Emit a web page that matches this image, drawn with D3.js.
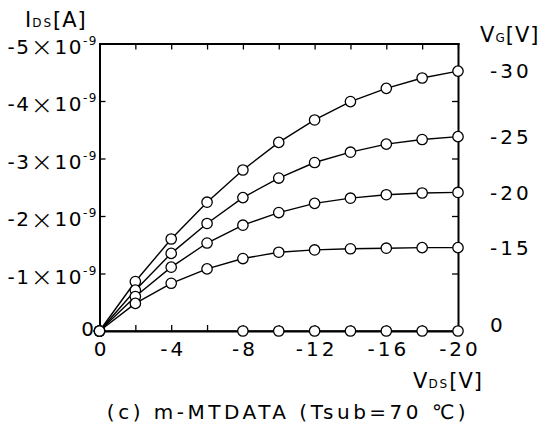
<!DOCTYPE html>
<html>
<head>
<meta charset="utf-8">
<script src="https://cdn.jsdelivr.net/npm/d3@7"></script>
<style>
  body { margin: 0; background: #fff; }
  svg text { font-family: "DejaVu Sans", "Liberation Sans", sans-serif; fill: #000; }
  .axis .domain { stroke: #000; stroke-width: 2; }
  .axis line { stroke: #000; stroke-width: 1.3; }
</style>
</head>
<body>
<svg id="chart" width="549" height="431"></svg>
<script>

// drain voltage V_DS [V]
const vds = [0, -2, -4, -6, -8, -10, -12, -14, -16, -18, -20];

// drain current I_DS, in units of 1e-9 A, one array per gate voltage
const ids30 = [0, -0.86, -1.60, -2.24, -2.80, -3.28, -3.67, -3.99, -4.22, -4.40, -4.52];
const ids25 = [0, -0.71, -1.35, -1.87, -2.32, -2.66, -2.93, -3.11, -3.25, -3.33, -3.38];
const ids20 = [0, -0.60, -1.11, -1.53, -1.84, -2.06, -2.22, -2.31, -2.37, -2.40, -2.41];
const ids15 = [0, -0.48, -0.83, -1.08, -1.26, -1.37, -1.41, -1.43, -1.44, -1.45, -1.45];
const ids0  = [0, null, null, null, 0, 0, 0, 0, 0, 0, 0];

const gateLabels = ["-30", "-25", "-20", "-15", "0"];

const xTickValues = [0, -2, -4, -6, -8, -10, -12, -14, -16, -18, -20];
const xTickLabels = [0, -4, -8, -12, -16, -20];
const yTickValues = [0, -1, -2, -3, -4, -5];
const yTickLabels = [-1, -2, -3, -4, -5];


const ivChart = function(){

    const render = function(target_id){
        let svg = d3.select('#' + target_id);

        var x = d3.scaleLinear().domain([0, -20]).range([99.5, 458]);
        var y = d3.scaleLinear().domain([0, -5]).range([331, 43.5]);

        // frame: four axes with inward ticks
        svg.append("g").attr("class", "axis")
            .attr("transform", "translate(0," + y(0) + ")")
            .call(d3.axisBottom(x).tickValues(xTickValues).tickSizeInner(-6).tickSizeOuter(0).tickFormat(""));
        svg.append("g").attr("class", "axis")
            .attr("transform", "translate(0," + y(-5) + ")")
            .call(d3.axisTop(x).tickValues(xTickValues).tickSizeInner(-6).tickSizeOuter(0).tickFormat(""));
        svg.append("g").attr("class", "axis")
            .attr("transform", "translate(" + x(0) + ",0)")
            .call(d3.axisLeft(y).tickValues(yTickValues).tickSizeInner(-6).tickSizeOuter(0).tickFormat(""));
        svg.append("g").attr("class", "axis")
            .attr("transform", "translate(" + x(-20) + ",0)")
            .call(d3.axisRight(y).tickValues(yTickValues).tickSizeInner(-6).tickSizeOuter(0).tickFormat(""));
        svg.selectAll(".axis .domain").attr("stroke-linecap", "square");

        // x tick labels
        svg.selectAll(".xlab")
            .data(xTickLabels)
            .enter()
            .append("text")
            .attr("class", "xlab")
            .attr("x", function(d){ return x(d) + 2 })
            .attr("y", 356)
            .attr("text-anchor", "middle")
            .attr("font-size", 20)
            .attr("letter-spacing", 3)
            .text(function(d){ return d });

        // y tick labels  -n×10^-9 (big thin cross like the original)
        let yl = svg.selectAll(".ylab")
            .data(yTickLabels)
            .enter()
            .append("text")
            .attr("class", "ylab")
            .attr("x", 98)
            .attr("y", function(d){ return y(d) + 10 })
            .attr("text-anchor", "end")
            .attr("font-size", 20)
            .attr("letter-spacing", 1.5);
        yl.append("tspan").text(function(d){ return d });
        yl.append("tspan").attr("font-size", 27).attr("dy", 2.5).attr("font-weight", 300).text("\u00d7");
        yl.append("tspan").attr("dy", -2.5).text("10");
        yl.append("tspan").attr("font-size", 12).attr("dy", -9).text("-9");

        svg.append("text")
            .attr("x", 94).attr("y", y(0) + 5)
            .attr("text-anchor", "end")
            .attr("font-size", 20)
            .text("0");

        // series
        let series = [ids30, ids25, ids20, ids15, ids0];
        var line = d3.line()
            .x(function(d){ return x(d[0]) })
            .y(function(d){ return y(d[1]) });

        series.forEach(function(s, k){
            let pts = vds.map(function(v, i){ return [v, s[i]] })
                         .filter(function(p){ return p[1] !== null });

            svg.append("path")
                .datum(pts)
                .attr("d", line)
                .attr("fill", "none")
                .attr("stroke", "#000")
                .attr("stroke-width", 1.4);

            svg.selectAll(".dot" + k)
                .data(pts)
                .enter()
                .append("circle")
                .attr("class", "dot" + k)
                .attr("cx", function(d){ return x(d[0]) })
                .attr("cy", function(d){ return y(d[1]) })
                .attr("r", 5.2)
                .attr("fill", "#fff")
                .attr("stroke", "#000")
                .attr("stroke-width", 1.3);

            // gate voltage label at the right end of the curve
            svg.append("text")
                .attr("x", 490)
                .attr("y", Math.min(y(pts[pts.length - 1][1]), y(0) - 6))
                .attr("dy", "0.36em")
                .attr("font-size", 20)
                .attr("letter-spacing", 3)
                .text(gateLabels[k]);
        });

        // axis titles
        let t1 = svg.append("text").attr("x", 25).attr("y", 27).attr("font-size", 21).attr("letter-spacing", 1);
        t1.append("tspan").text("I");
        t1.append("tspan").attr("font-size", 12).attr("letter-spacing", 2).text("DS");
        t1.append("tspan").text("[A]");

        let t2 = svg.append("text").attr("x", 413).attr("y", 388).attr("font-size", 21).attr("letter-spacing", 1);
        t2.append("tspan").text("V");
        t2.append("tspan").attr("font-size", 12).attr("letter-spacing", 2).text("DS");
        t2.append("tspan").text("[V]");

        let t3 = svg.append("text").attr("x", 480).attr("y", 42).attr("font-size", 21).attr("letter-spacing", 1);
        t3.append("tspan").text("V");
        t3.append("tspan").attr("font-size", 12).text("G");
        t3.append("tspan").text("[V]");

        // caption
        svg.append("text")
            .attr("x", 288).attr("y", 419)
            .attr("text-anchor", "middle")
            .attr("font-size", 20)
            .attr("letter-spacing", 3.5)
            .text("(c) m-MTDATA (Tsub=70 \u2103)");
    };

    return {
        render: render
    }

}();

ivChart.render("chart");
</script>
</body>
</html>
